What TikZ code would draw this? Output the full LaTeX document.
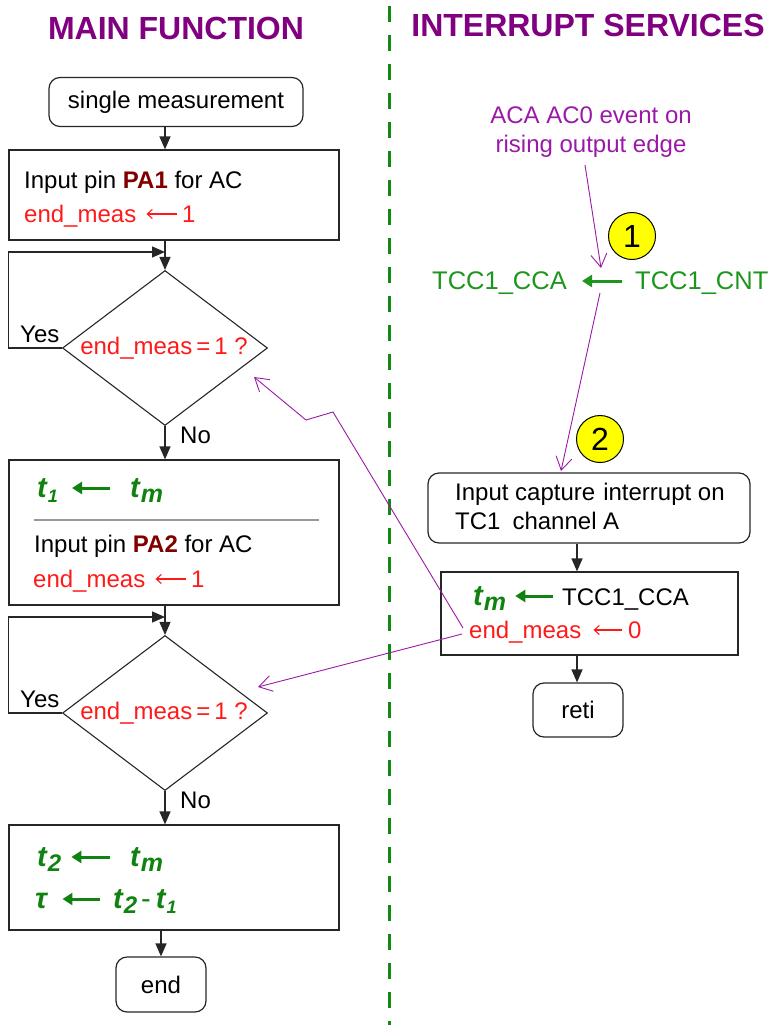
\documentclass[tikz,border=0pt]{standalone}
\usepackage{fontspec}
\setmainfont{Liberation Sans}
\usetikzlibrary{arrows.meta,shapes.geometric}
\definecolor{ttlc}{HTML}{800080}
\definecolor{dredc}{HTML}{800000}
\definecolor{redc}{HTML}{FF1A1A}
\definecolor{grnc}{HTML}{1E961E}
\definecolor{mgrn}{HTML}{0F820F}
\definecolor{dashc}{HTML}{108A10}
\definecolor{purc}{HTML}{9A1AA8}
\definecolor{yelc}{HTML}{FFFF00}
\newcommand{\tvar}[2][19]{\textbf{\textit{t}}\raisebox{-5pt}{\fontsize{#1}{#1}\selectfont\textbf{\textit{#2}}}}
\begin{document}
\begin{tikzpicture}[x=1pt,y=-1pt,
  every node/.style={inner sep=0pt, font=\fontsize{24}{28}\selectfont},
  proc/.style={draw=black!85, line width=1.2pt, rectangle},
  term/.style={proc, rounded corners=11pt},
  dec/.style={draw=black!85, line width=1.1pt, diamond, aspect=1.32, minimum width=205pt, minimum height=155pt},
  lt/.style={anchor=base west},
  redt/.style={text=redc},
  grnt/.style={text=grnc, font=\fontsize{25.5}{30}\selectfont},
  mtht/.style={text=mgrn, font=\fontsize{29}{32}\selectfont},
  ttl/.style={text=ttlc, anchor=base, font=\fontsize{32}{36}\selectfont\bfseries},
  arr/.style={draw=black!85, line width=1.2pt, -{Triangle[width=11pt,length=13pt]}},
  parr/.style={draw=purc, line width=0.9pt, -{Straight Barb[length=13pt,width=16pt,line width=0.9pt]}},
  garr/.style={draw=grnc, line width=3pt, -{Triangle[width=12pt,length=10pt]}},
  marr/.style={draw=mgrn, line width=3pt, -{Triangle[width=12pt,length=10pt]}},
  rarr/.style={draw=redc, line width=1.1pt, -{Straight Barb[length=5pt,width=9pt,line width=1.1pt]}},
  badge/.style={circle, draw=black, line width=1pt, fill=yelc, minimum size=47pt, font=\fontsize{32}{32}\selectfont}
]
\useasboundingbox (0,0) rectangle (774,1025);

% titles
\node[ttl] (t1) at (176,40) {MAIN FUNCTION};
\node[ttl] (t2) at (588,37) {INTERRUPT SERVICES};

% divider
\coordinate (dvtop) at (389,6);
\coordinate (dvbot) at (389,1025);
\draw[dashc, line width=3pt, dash pattern=on 16pt off 13pt] (dvtop) -- (dvbot);

% ---------------- main function ----------------
\coordinate (cx) at (165,0);
\node[term, minimum width=254pt, minimum height=49pt] (start) at (176,102) {single measurement};

\node[proc, minimum width=330pt, minimum height=90pt] (b1) at (174,195) {};
\node[lt] (b1a) at (24,188) {Input pin \textbf{\color{dredc}PA1} for AC};
\node[lt, redt] (b1b) at (24,222) {end\_meas};
\node[lt, redt] (b1v) at (182,222) {1};
\draw[rarr] ([shift={(-5,-8)}]b1v.base west) -- ([shift={(10,-8)}]b1b.base east);

\node[dec] (d1) at (165,348) {};
\node[redt] (d1t) at (164,348) {end\_meas\,=\,1 ?};
\node[lt] (y1) at (20,342) {Yes};
\node[lt] (n1) at (180,443) {No};
\coordinate (j1) at (165,252);

\node[proc, minimum width=330pt, minimum height=145pt] (b2) at (174,532.5) {};
\node[lt, mtht] (b2l) at (37,497) {\tvar[18]{1}};
\node[lt, mtht] (b2r) at (130,497) {\tvar[25]{m}};
\draw[marr] ([shift={(-20,-9)}]b2r.base west) -- ([shift={(14,-9)}]b2l.base east);
\draw[black!40, line width=1.2pt] (34,520) -- (319,520);
\node[lt] (b2b) at (34,552) {Input pin \textbf{\color{dredc}PA2} for AC};
\node[lt, redt] (b2c) at (33,587) {end\_meas};
\node[lt, redt] (b2v) at (191,587) {1};
\draw[rarr] ([shift={(-5,-8)}]b2v.base west) -- ([shift={(10,-8)}]b2c.base east);

\node[dec] (d2) at (165,713) {};
\node[redt] (d2t) at (164,713) {end\_meas\,=\,1 ?};
\node[lt] (y2) at (20,707) {Yes};
\node[lt] (n2) at (180,808) {No};
\coordinate (j2) at (165,617);

\node[proc, minimum width=330pt, minimum height=105pt] (b3) at (174,877.5) {};
\node[lt, mtht] (b3l) at (37,866) {\tvar[24]{2}};
\node[lt, mtht] (b3r) at (130,866) {\tvar[25]{m}};
\draw[marr] ([shift={(-20,-9)}]b3r.base west) -- ([shift={(10,-9)}]b3l.base east);
\node[lt, mtht] (b3tau) at (35,908) {\textbf{\textit{τ}}};
\node[lt, mtht] (b3d) at (113,908) {\tvar[24]{2}\kern4pt-\kern5pt\tvar[18]{1}};
\draw[marr] ([shift={(-13,-9)}]b3d.base west) -- ([shift={(14,-9)}]b3tau.base east);

\node[term, minimum width=90pt, minimum height=55pt] (fin) at (161,984.5) {end};

\draw[arr] (start.south -| cx) -- (b1.north -| cx);
\draw[arr] (b1.south -| cx) -- (d1.north);
\draw[arr] (d1.west) -- (d1.west -| b1.west) |- (j1);
\draw[arr] (d1.south) -- (b2.north -| cx);
\draw[arr] (b2.south -| cx) -- (d2.north);
\draw[arr] (d2.west) -- (d2.west -| b2.west) |- (j2);
\draw[arr] (d2.south) -- (b3.north -| cx);
\draw[arr] (b3.south -| fin) -- (fin.north);

% ---------------- interrupt services ----------------
\node[text=purc, align=center, font=\fontsize{24}{29}\selectfont] (ev) at (591,132) {ACA AC0 event on\\rising output edge};
\node[badge] (c1) at (632,236) {1};
\node[lt, grnt] (cca) at (432,289) {TCC1\_CCA};
\node[lt, grnt] (cnt) at (635,289) {TCC1\_CNT};
\draw[garr] ([shift={(-13,-8)}]cnt.base west) -- ([shift={(15,-8)}]cca.base east);

\node[badge] (c2) at (600,439) {2};

\coordinate (rx) at (577,0);
\node[term, minimum width=322pt, minimum height=70pt] (ic) at (589,508) {};
\node[lt] (ica) at (455,500) {Input capture\,\,interrupt on};
\node[lt] (icb) at (455,529) {TC1\,\,\,channel A};

\node[proc, minimum width=297pt, minimum height=83pt] (tmb) at (589.5,613.5) {};
\node[lt, mtht] (tml) at (473,605) {\tvar[25]{m}};
\node[lt] (tmr) at (562,605) {TCC1\_CCA};
\draw[marr] ([shift={(-9,-9)}]tmr.base west) -- ([shift={(9,-9)}]tml.base east);
\node[lt, redt] (tmbx) at (469,638) {end\_meas};
\node[lt, redt] (tmv) at (628,638) {0};
\draw[rarr] ([shift={(-6,-8)}]tmv.base west) -- ([shift={(12,-8)}]tmbx.base east);

\node[term, minimum width=90pt, minimum height=54pt] (reti) at (578,710) {reti};

\draw[arr] (ic.south -| rx) -- (tmb.north -| rx);
\draw[arr] (tmb.south -| rx) -- (reti.north -| rx);

% purple event connectors
\coordinate (p1s) at (585,165);
\coordinate (p1e) at (601,268);
\coordinate (p2s) at (600,293);
\coordinate (p2e) at (561,471);
\draw[parr] (p1s) -- (p1e);
\draw[parr] (p2s) -- (p2e);
\coordinate (k1) at (333,412);
\coordinate (k2) at (306,420);
\coordinate (a1) at (254,377);
\coordinate (a2) at (258,687);
\draw[parr] ([shift={(-6,-10)}]tmbx.base west) -- (k1) -- (k2) -- (a1);
\draw[parr] ([shift={(-7,-4)}]tmbx.base west) -- (a2);
\end{tikzpicture}
\end{document}
